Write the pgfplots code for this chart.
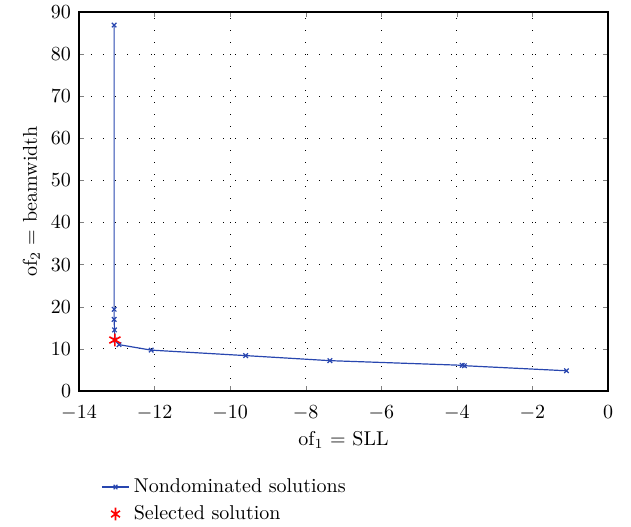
\documentclass[border=0pt]{standalone}
\usepackage{pgfplots}
\pgfplotsset{compat=1.18}
\definecolor{mblue}{RGB}{40,70,175}
\begin{document}
\begin{tikzpicture}
\begin{axis}[
  name=ax,
  scale only axis,
  width=264.5pt, height=189.5pt,
  xmin=-14, xmax=0, ymin=0, ymax=90,
  xtick={-14,-12,...,0}, ytick={0,10,...,90},
  tick align=inside,
  major tick length=2.5pt,
  axis line style={line width=0.9pt},
  grid=major,
  major grid style={black, line width=0.5pt, dash pattern=on 0.5pt off 5.5pt},
  xlabel={of$_1$ = SLL},
  ylabel={of$_2$ = beamwidth},
  xlabel style={yshift=-1pt},
  ylabel style={yshift=1pt},
  xticklabel style={inner sep=1pt, yshift=-6pt},
  yticklabel style={inner sep=1pt, xshift=-2.8pt},
  legend style={at={(0.03,-0.209)}, anchor=north west, draw=none, fill=none, font=\normalsize, row sep=1pt},
  legend cell align=left,
  legend image post style={xscale=0.8},
]
\addplot[color=mblue, line width=0.6pt, mark=x, mark size=1.6pt] coordinates {
  (-13.07,86.9) (-13.07,19.4) (-13.07,17.0) (-13.06,14.5) (-13.05,12.1)
  (-12.94,11.0) (-12.09,9.7) (-9.59,8.4) (-7.36,7.2) (-3.86,6.1) (-3.80,6.0) (-1.10,4.8)
};
\addlegendentry{Nondominated solutions}
\addplot[color=red, only marks, mark=asterisk, mark size=3.2pt, line width=0.8pt] coordinates {
  (-13.05,12.1)
};
\addlegendentry{Selected solution}
\end{axis}
\pgfresetboundingbox
\useasboundingbox ([xshift=-39.5pt,yshift=-68pt]ax.south west) rectangle ([xshift=11.5pt,yshift=6pt]ax.north east);
\end{tikzpicture}
\end{document}
